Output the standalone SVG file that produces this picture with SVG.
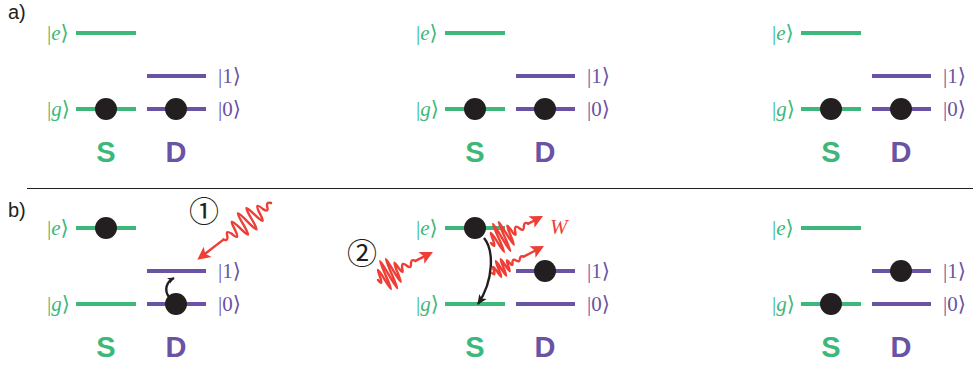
<svg xmlns="http://www.w3.org/2000/svg" xmlns:xlink="http://www.w3.org/1999/xlink" width="973" height="365" viewBox="0 0 973 365">
<style>
.g{stroke:#3db87a;stroke-width:4;fill:none}
.p{stroke:#6a52a4;stroke-width:4;fill:none}
.dot{fill:#231f20}
.lab{font-family:"Liberation Serif","DejaVu Serif","DejaVu Sans",serif;font-size:21px}
.lg{fill:#3db87a}
.lp{fill:#6a52a4}
.it{font-style:italic}
.big{font-family:"Liberation Sans",Arial,sans-serif;font-weight:bold;font-size:29px;text-anchor:middle}
.sub{font-family:"Liberation Sans",Arial,sans-serif;font-size:20px;fill:#231f20}
.wave{fill:none;stroke:#ee3e36;stroke-width:2.4;stroke-linejoin:round;stroke-linecap:round}
.head{fill:#ee3e36}
.blk{fill:none;stroke:#231f20;stroke-width:2.4}
.num{font-family:"Noto Sans CJK JP","DejaVu Sans",sans-serif;font-size:30px;fill:#231f20;text-anchor:middle}
</style>
<defs>
<marker id="ah" viewBox="0 0 10 10" refX="9" refY="5" markerWidth="10" markerHeight="10" markerUnits="userSpaceOnUse" orient="auto"><path d="M0,0.5 L10,5 L0,9.5 L2.5,5z" fill="#231f20"/></marker>
<marker id="ahs" viewBox="0 0 10 10" refX="9" refY="5" markerWidth="7" markerHeight="7" markerUnits="userSpaceOnUse" orient="auto"><path d="M0,0.5 L10,5 L0,9.5 L2.5,5z" fill="#231f20"/></marker>
<path id="waveA" class="wave" d="M0,0 C1.8,2.7 3.2,2.7 5,0 C6.8,-4.7 8.2,-4.7 10,0 C11.8,8 13.2,8 15,0 C16.8,-12 18.2,-12 20,0 C21.8,14.6 23.2,14.6 25,0 C26.8,-16 28.2,-16 30,0 C31.8,16 33.2,16 35,0 C36.8,-14.6 38.2,-14.6 40,0 C41.8,12 43.2,12 45,0 C46.8,-8 48.2,-8 50,0 C51.8,4.7 53.2,4.7 55,0 C56.8,-2.7 58.2,-2.7 60,0"/>
<path id="waveB" class="wave" d="M0,0 C1.08,5.3 1.92,5.3 3,0 C4.08,-12 4.92,-12 6,0 C7.08,18.6 7.92,18.6 9,0 C10.08,-21.3 10.92,-21.3 12,0 C13.08,21.3 13.92,21.3 15,0 C16.08,-20 16.92,-20 18,0 C19.08,16 19.92,16 21,0 C22.08,-10.6 22.92,-10.6 24,0 C25.08,5.3 25.92,5.3 27,0 C28.8,-4 30.2,-4 32,0 C33.8,4 35.2,4 37,0 C38.8,-2.7 40.2,-2.7 42,0"/>
<path id="waveC" class="wave" d="M0,0 C0.92,2.9 1.63,2.9 2.55,0 C3.47,-6.6 4.18,-6.6 5.1,0 C6.02,10.2 6.73,10.2 7.65,0 C8.57,-11.7 9.28,-11.7 10.2,0 C11.12,11.7 11.83,11.7 12.75,0 C13.67,-11 14.38,-11 15.3,0 C16.22,8.8 16.93,8.8 17.85,0 C18.77,-5.8 19.48,-5.8 20.4,0 C21.32,2.9 22.03,2.9 22.95,0 C24.48,-2.5 25.67,-2.5 27.2,0 C28.73,2.5 29.92,2.5 31.45,0 C32.98,-1.7 34.17,-1.7 35.7,0"/>
<g id="levels">
<path class="g" d="M76,33 H136 M76,109 H136"/>
<path class="p" d="M147,76 H206 M147,109 H206"/>
<text class="lab lg" x="47" y="39.5">|<tspan class="it">e</tspan>⟩</text>
<text class="lab lg" x="47" y="115.5">|<tspan class="it">g</tspan>⟩</text>
<text class="lab lp" x="218" y="82.5">|1⟩</text>
<text class="lab lp" x="218" y="115.5">|0⟩</text>
<text class="big lg" x="106" y="162">S</text>
<text class="big lp" x="176" y="162">D</text>
</g>
</defs>

<text class="sub" x="8" y="18.5">a)</text>
<text class="sub" x="8" y="216.5">b)</text>
<path d="M27,188.5 H973" stroke="#231f20" stroke-width="1.2"/>

<g id="panel-a1">
<use xlink:href="#levels"/>
<circle class="dot" cx="106" cy="109" r="11"/>
<circle class="dot" cx="176" cy="109" r="11"/>
</g>
<g id="panel-a2" transform="translate(369,0)">
<use xlink:href="#levels"/>
<circle class="dot" cx="106" cy="109" r="11"/>
<circle class="dot" cx="176" cy="109" r="11"/>
</g>
<g id="panel-a3" transform="translate(725,0)">
<use xlink:href="#levels"/>
<circle class="dot" cx="106" cy="109" r="11"/>
<circle class="dot" cx="176" cy="109" r="11"/>
</g>
<g id="panel-b1" transform="translate(0,195)">
<use xlink:href="#levels"/>
<circle class="dot" cx="106" cy="33" r="11"/>
<circle class="dot" cx="176" cy="109" r="11"/>
</g>
<g id="panel-b2" transform="translate(369,195)">
<use xlink:href="#levels"/>
<circle class="dot" cx="106" cy="33" r="11"/>
<circle class="dot" cx="176" cy="76" r="11"/>
</g>
<g id="panel-b3" transform="translate(725,195)">
<use xlink:href="#levels"/>
<circle class="dot" cx="106" cy="109" r="11"/>
<circle class="dot" cx="176" cy="76" r="11"/>
</g>

<g id="labels">
<text class="num" x="204" y="222">①</text>
<text class="num" x="362" y="264">②</text>
<text class="lab it" x="550" y="234" fill="#ee3e36" style="font-size:21px">W</text>
</g>

<g id="connectors">
<path class="blk" d="M169,297 C164,290 166,282 174,278" marker-end="url(#ahs)"/>
<path class="blk" d="M484,238 C494,250 494,280 478,304" marker-end="url(#ah)"/>
<g transform="translate(271,203) rotate(142.4)">
<use xlink:href="#waveA"/>
<path class="wave" d="M60,0 H84"/>
<path class="head" d="M93,0 L80,-6.5 L83,0 L80,6.5Z"/>
</g>
<g transform="translate(378,280) rotate(-27)">
<use xlink:href="#waveB"/>
<path class="wave" d="M42,0 H52"/>
<path class="head" d="M61.7,0 L48.7,-6.5 L51.7,0 L48.7,6.5Z"/>
</g>
<g transform="translate(491,243) rotate(-27.4)">
<use xlink:href="#waveB"/>
<path class="wave" d="M42,0 H49"/>
<path class="head" d="M58.6,0 L45.6,-6.5 L48.6,0 L45.6,6.5Z"/>
</g>
<g transform="translate(492,273) rotate(-27.4)">
<use xlink:href="#waveC"/>
<path class="wave" d="M35.7,0 H49"/>
<path class="head" d="M58.6,0 L45.6,-6.5 L48.6,0 L45.6,6.5Z"/>
</g>
</g>
</svg>
